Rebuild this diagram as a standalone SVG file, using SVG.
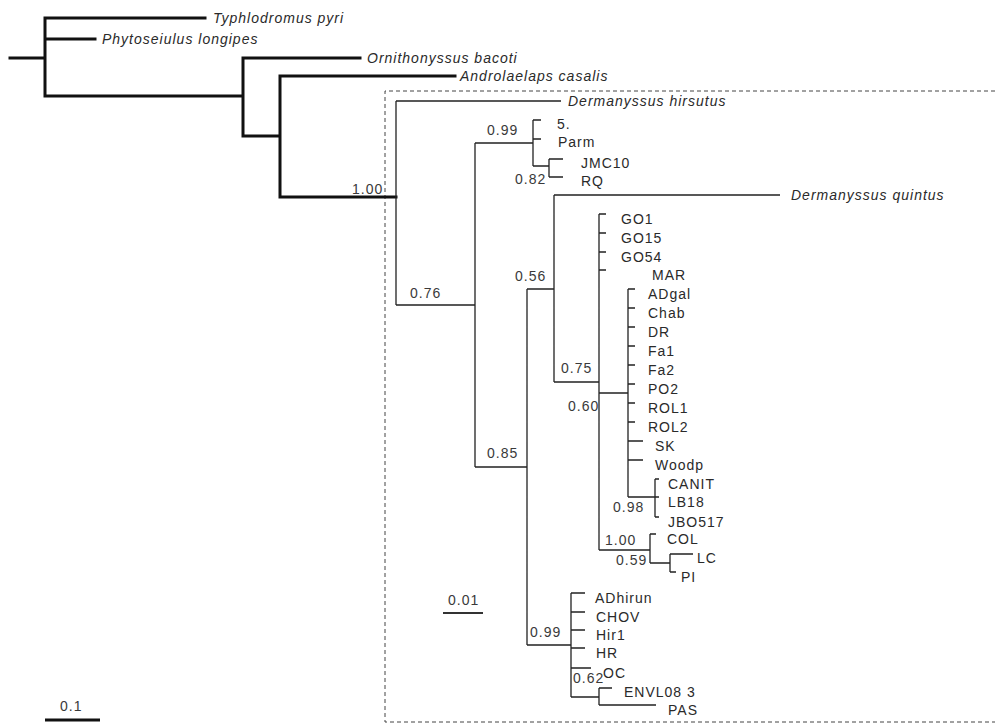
<svg xmlns="http://www.w3.org/2000/svg" width="995" height="724" viewBox="0 0 995 724">
<style>
text{font-family:"Liberation Sans",Arial,sans-serif;font-size:14px;letter-spacing:1px;fill:#2a2a2a}
.sp{font-style:italic}
.num{fill:#3a3a3a}
.thick{stroke:#111;stroke-width:3;fill:none;stroke-linecap:square}
.thin{stroke:#222;stroke-width:1.3;fill:none}
.box{stroke:#444;stroke-width:1;fill:none;stroke-dasharray:4 3}
</style>
<rect width="995" height="724" fill="#fff"/>
<path class="box" d="M995,91 H385 V722 H995"/>
<g id="connectors">
<path class="thick" d="M10,58 H45 M45,18 V96 M45,18 H205 M45,39 H95 M45,96 H243 M243,58 V136 M243,58 H360 M243,136 H280 M280,76 V197 M280,76 H455 M280,197 H396"/>
<path class="thin" d="M396,101 V305 M396,101 H561 M396,305 H475 M475,143 V467 M475,143 H533 M533,120 V166 M533,120 H541 M533,139 H541 M533,166 H549 M549,159 V177 M549,159 H563 M549,177 H563
M475,467 H527 M527,289 V645 M527,289 H554 M554,195 V382 M554,195 H780 M554,382 H599
M599,214 V550 M599,214 H606 M599,233 H606 M599,252 H606 M599,270 H606 M599,393 H628
M628,289 V497 M628,289 H635 M628,308 H635 M628,327 H635 M628,346 H635 M628,365 H635 M628,384 H635 M628,403 H635 M628,422 H635 M628,441 H643 M628,460 H643
M628,497 H659 M655,479 V517 M655,479 H659 M655,517 H659
M599,550 H650 M650,534 V563 M650,534 H656 M650,563 H670 M670,554 V572 M670,554 H693 M670,572 H676
M527,645 H571 M571,593 V697 M571,593 H585 M571,612 H585 M571,630 H585 M571,648 H585 M571,668 H591 M571,697 H599 M599,688 V705 M599,688 H612 M599,705 H656"/>
</g>
<g id="node-typhlodromus"><text class="sp" x="213" y="23">Typhlodromus pyri</text></g>
<g id="node-phytoseiulus"><text class="sp" x="102" y="44">Phytoseiulus longipes</text></g>
<g id="node-ornithonyssus"><text class="sp" x="367" y="63">Ornithonyssus bacoti</text></g>
<g id="node-androlaelaps"><text class="sp" x="460" y="81">Androlaelaps casalis</text></g>
<g id="node-hirsutus"><text class="sp" x="568" y="106">Dermanyssus hirsutus</text></g>
<g id="node-quintus"><text class="sp" x="791" y="200">Dermanyssus quintus</text></g>
<g id="node-5"><text x="557" y="129">5.</text></g>
<g id="node-parm"><text x="558" y="147">Parm</text></g>
<g id="node-jmc10"><text x="581" y="168">JMC10</text></g>
<g id="node-rq"><text x="581" y="186">RQ</text></g>
<g id="node-go1"><text x="621" y="224">GO1</text></g>
<g id="node-go15"><text x="621" y="243">GO15</text></g>
<g id="node-go54"><text x="621" y="262">GO54</text></g>
<g id="node-mar"><text x="652" y="280">MAR</text></g>
<g id="node-adgal"><text x="648" y="299">ADgal</text></g>
<g id="node-chab"><text x="648" y="318">Chab</text></g>
<g id="node-dr"><text x="648" y="337">DR</text></g>
<g id="node-fa1"><text x="648" y="356">Fa1</text></g>
<g id="node-fa2"><text x="648" y="375">Fa2</text></g>
<g id="node-po2"><text x="648" y="394">PO2</text></g>
<g id="node-rol1"><text x="648" y="413">ROL1</text></g>
<g id="node-rol2"><text x="648" y="432">ROL2</text></g>
<g id="node-sk"><text x="655" y="451">SK</text></g>
<g id="node-woodp"><text x="655" y="470">Woodp</text></g>
<g id="node-canit"><text x="668" y="489">CANIT</text></g>
<g id="node-lb18"><text x="668" y="507">LB18</text></g>
<g id="node-jbo517"><text x="668" y="527">JBO517</text></g>
<g id="node-col"><text x="667" y="544">COL</text></g>
<g id="node-lc"><text x="697" y="563">LC</text></g>
<g id="node-pi"><text x="681" y="582">PI</text></g>
<g id="node-adhirun"><text x="595" y="603">ADhirun</text></g>
<g id="node-chov"><text x="596" y="622">CHOV</text></g>
<g id="node-hir1"><text x="596" y="640">Hir1</text></g>
<g id="node-hr"><text x="596" y="658">HR</text></g>
<g id="node-oc"><text x="603" y="678">OC</text></g>
<g id="node-envl083"><text x="624" y="697">ENVL08 3</text></g>
<g id="node-pas"><text x="668" y="715">PAS</text></g>
<g id="support-values">
<text class="num" x="352" y="194">1.00</text>
<text class="num" x="410" y="298">0.76</text>
<text class="num" x="487" y="135">0.99</text>
<text class="num" x="515" y="184">0.82</text>
<text class="num" x="487" y="458">0.85</text>
<text class="num" x="515" y="281">0.56</text>
<text class="num" x="561" y="373">0.75</text>
<text class="num" x="568" y="411">0.60</text>
<text class="num" x="613" y="512">0.98</text>
<text class="num" x="605" y="545">1.00</text>
<text class="num" x="616" y="565">0.59</text>
<text class="num" x="530" y="637">0.99</text>
<text class="num" x="573" y="683">0.62</text>
</g>
<g id="scale-bars">
<text class="num" x="448" y="605">0.01</text>
<path d="M443,613 H483" stroke="#333" stroke-width="2"/>
<text class="num" x="60" y="711">0.1</text>
<path d="M45,720 H100" stroke="#111" stroke-width="3"/>
</g>
</svg>
